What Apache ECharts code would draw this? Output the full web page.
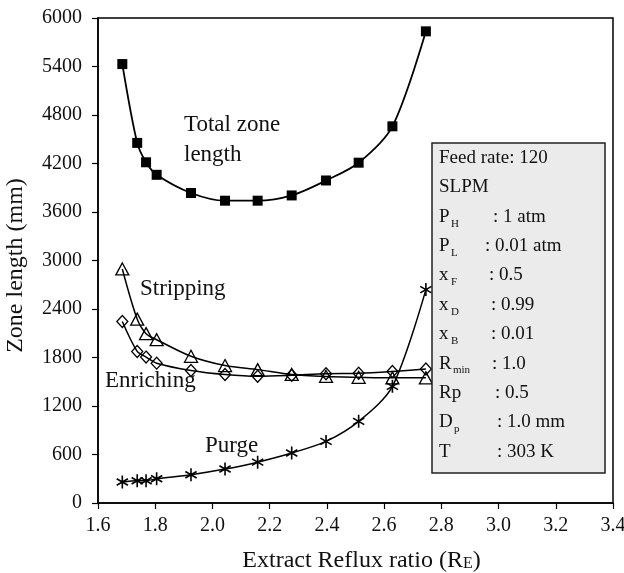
<!DOCTYPE html>
<html>
<head>
<meta charset="utf-8">
<script src="https://cdn.jsdelivr.net/npm/echarts@6/dist/echarts.min.js"></script>
<style>
  html, body { margin: 0; padding: 0; background: #fff; }
  #chart { width: 624px; height: 573px; }
</style>
</head>
<body>
<div id="chart"></div>
<script>
// Extract reflux ratio (x) for each computed case
const refluxRatio = [1.685, 1.737, 1.768, 1.805, 1.925, 2.044, 2.158, 2.277, 2.397, 2.511, 2.629, 2.746];

// Zone lengths (mm)
const totalZone = [5430, 4455, 4215, 4060, 3835, 3740, 3740, 3805, 3990, 4210, 4660, 5835];
const stripping = [2895, 2275, 2095, 2020, 1815, 1700, 1650, 1590, 1565, 1555, 1548, 1548];
const enriching = [2245, 1875, 1805, 1730, 1640, 1590, 1568, 1580, 1600, 1605, 1628, 1658];
const purge     = [260, 276, 276, 300, 350, 420, 505, 618, 762, 1010, 1443, 2640];

// Axis ticks
const xTicks = { min: 1.6, max: 3.4, step: 0.2 };
const yTicks = { min: 0, max: 6000, step: 600 };

// Operating conditions listed in the side panel: [symbol, subscript, value]
const conditions = [
  ['Feed rate: 120', '', ''],
  ['SLPM', '', ''],
  ['P', 'H', ': 1 atm'],
  ['P', 'L', ': 0.01 atm'],
  ['x', 'F', ': 0.5'],
  ['x', 'D', ': 0.99'],
  ['x', 'B', ': 0.01'],
  ['R', 'min', ': 1.0'],
  ['Rp', '', ': 0.5'],
  ['D', 'p', ': 1.0 mm'],
  ['T', '', ': 303 K']
];

const FONT = '"Liberation Serif", "DejaVu Serif", serif';
const pair = (ys) => refluxRatio.map((x, i) => [x, ys[i]]);
const asterisk = 'path://M5,0L5,10M0.67,2.5L9.33,7.5M0.67,7.5L9.33,2.5';

const chart = echarts.init(document.getElementById('chart'));

// side panel layout
const box = { x: 432, y: 143, w: 173, h: 330 };
const rowY0 = 158, rowStep = 29.37, textX = 439;
const valueX = [0, 0, 493, 485, 489, 491, 491, 492, 495, 497, 497];
const subX = { P: 451, x: 451, R: 453, D: 454 };

const panel = [{
  type: 'rect',
  shape: { x: box.x, y: box.y, width: box.w, height: box.h },
  style: { fill: '#ebebeb', stroke: '#222', lineWidth: 1.5 },
  z: 100
}];
conditions.forEach((c, i) => {
  const y = rowY0 + i * rowStep;
  panel.push({
    type: 'text', x: textX, y: y, z: 101,
    style: { text: c[0], font: '19px ' + FONT, fill: '#111', textVerticalAlign: 'middle' }
  });
  if (c[1]) {
    panel.push({
      type: 'text', x: subX[c[0]], y: y + 7, z: 101,
      style: { text: c[1], font: '11px ' + FONT, fill: '#111', textVerticalAlign: 'middle' }
    });
  }
  if (c[2]) {
    panel.push({
      type: 'text', x: valueX[i], y: y, z: 101,
      style: { text: c[2], font: '19px ' + FONT, fill: '#111', textVerticalAlign: 'middle' }
    });
  }
});

const curveLabels = [
  { text: 'Total zone', x: 184, y: 125 },
  { text: 'length', x: 184, y: 155 },
  { text: 'Stripping', x: 140, y: 289 },
  { text: 'Enriching', x: 105, y: 381 },
  { text: 'Purge', x: 205, y: 446 }
].map(l => ({
  type: 'text', x: l.x, y: l.y, z: 50,
  style: { text: l.text, font: '23px ' + FONT, fill: '#111', textVerticalAlign: 'middle' }
}));

const baseSeries = {
  type: 'line',
  smooth: 0.3,
  symbolKeepAspect: true,
  lineStyle: { color: '#000', width: 1.5 },
  emphasis: { disabled: true },
  z: 3
};

chart.setOption({
  animation: false,
  backgroundColor: '#fff',
  textStyle: { fontFamily: FONT },
  grid: {
    left: 98, right: 11, top: 18, bottom: 70,
    outerBoundsMode: 'none',
    containLabel: false,
    show: true, borderColor: '#000', borderWidth: 1.5, backgroundColor: 'transparent'
  },
  xAxis: {
    type: 'value',
    min: xTicks.min, max: xTicks.max, interval: xTicks.step,
    name: 'Extract Reflux ratio (R{s|E})',
    nameLocation: 'middle', nameGap: 46,
    nameTextStyle: {
      fontFamily: FONT, fontSize: 24, color: '#111', padding: [0, 0, 0, 12],
      rich: { s: { fontFamily: FONT, fontSize: 16, color: '#111', verticalAlign: 'bottom', padding: [0, 0, 1, 0] } }
    },
    axisLine: { lineStyle: { color: '#000', width: 1.5 } },
    axisTick: { length: 6, lineStyle: { color: '#000', width: 1.2 } },
    axisLabel: { fontFamily: FONT, fontSize: 20, color: '#111', margin: 13,
                 formatter: v => v.toFixed(1) },
    splitLine: { show: false }
  },
  yAxis: {
    type: 'value',
    min: yTicks.min, max: yTicks.max, interval: yTicks.step,
    name: 'Zone length (mm)',
    nameLocation: 'middle', nameGap: 70,
    nameTextStyle: { fontFamily: FONT, fontSize: 24, color: '#111', padding: [0, 10, 0, 0] },
    axisLine: { lineStyle: { color: '#000', width: 1.5 } },
    axisTick: { length: 6, lineStyle: { color: '#000', width: 1.2 } },
    axisLabel: { fontFamily: FONT, fontSize: 20, color: '#111', margin: 16,
                 formatter: v => String(v) },
    splitLine: { show: false }
  },
  series: [
    Object.assign({}, baseSeries, {
      name: 'Total zone length', data: pair(totalZone),
      symbol: 'rect', symbolSize: 10,
      itemStyle: { color: '#000' },
      lineStyle: { color: '#000', width: 1.8 }
    }),
    Object.assign({}, baseSeries, {
      name: 'Stripping', data: pair(stripping),
      symbol: 'triangle', symbolSize: [13, 12],
      itemStyle: { color: 'rgba(255,255,255,0)', borderColor: '#000', borderWidth: 1.3 }
    }),
    Object.assign({}, baseSeries, {
      name: 'Enriching', data: pair(enriching),
      symbol: 'diamond', symbolSize: [11, 12],
      itemStyle: { color: 'rgba(255,255,255,0)', borderColor: '#000', borderWidth: 1.3 }
    }),
    Object.assign({}, baseSeries, {
      name: 'Purge', data: pair(purge),
      symbol: asterisk, symbolSize: 13,
      itemStyle: { color: 'rgba(255,255,255,0)', borderColor: '#000', borderWidth: 1.6 }
    })
  ],
  graphic: curveLabels.concat(panel)
});
</script>
</body>
</html>
